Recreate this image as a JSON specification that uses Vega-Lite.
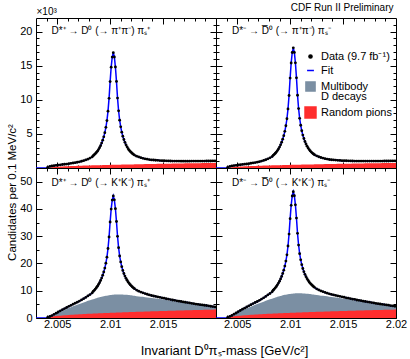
{
"$schema": "https://vega.github.io/schema/vega-lite/v6.json",
"background": "white",
"padding": {"left": 5, "top": 2, "right": 5, "bottom": 5},
"config": {
  "font": "Liberation Sans",
  "view": {"stroke": "black", "strokeWidth": 1},
  "axis": {"domain": false, "grid": false, "tickColor": "black", "tickWidth": 1, "labelColor": "black", "labelFont": "Liberation Sans", "labelFontSize": 11, "labelFlush": false, "labelOverlap": false, "titleFont": "Liberation Sans", "titleFontWeight": "normal", "titleColor": "black"},
  "legend": {"labelFont": "Liberation Sans", "labelColor": "black"}
},
"data": {"name": "d"},
"datasets": {"d": [
{"m":2.0030,"tl":0,"tr":0,"bl":0,"br":0,"rt":0,"rb":0,"gl":0,"gr":0},
{"m":2.0040,"tl":0,"tr":0,"bl":0,"br":0,"rt":0,"rb":0,"gl":0,"gr":0},
{"m":2.0041,"tl":0.1,"tr":0.1,"bl":0.22,"br":0.22,"rt":0,"rb":0,"gl":0,"gr":0},
{"m":2.0043,"tl":0.23,"tr":0.23,"bl":0.55,"br":0.58,"rt":0.08,"rb":0.35,"gl":0.3,"gr":0.32},
{"m":2.0045,"tl":0.29,"tr":0.3,"bl":0.89,"br":0.93,"rt":0.12,"rb":0.49,"gl":0.6,"gr":0.63},
{"m":2.0047,"tl":0.34,"tr":0.35,"bl":1.33,"br":1.39,"rt":0.15,"rb":0.6,"gl":1.0,"gr":1.05},
{"m":2.0049,"tl":0.39,"tr":0.39,"bl":1.76,"br":1.84,"rt":0.17,"rb":0.69,"gl":1.4,"gr":1.47},
{"m":2.0051,"tl":0.43,"tr":0.44,"bl":2.2,"br":2.3,"rt":0.19,"rb":0.78,"gl":1.8,"gr":1.89},
{"m":2.0053,"tl":0.47,"tr":0.48,"bl":2.63,"br":2.76,"rt":0.21,"rb":0.85,"gl":2.2,"gr":2.31},
{"m":2.0055,"tl":0.51,"tr":0.52,"bl":3.07,"br":3.21,"rt":0.22,"rb":0.92,"gl":2.6,"gr":2.73},
{"m":2.0057,"tl":0.55,"tr":0.56,"bl":3.46,"br":3.62,"rt":0.24,"rb":0.98,"gl":2.95,"gr":3.1},
{"m":2.0059,"tl":0.58,"tr":0.59,"bl":3.84,"br":4.03,"rt":0.25,"rb":1.04,"gl":3.3,"gr":3.47},
{"m":2.0061,"tl":0.63,"tr":0.64,"bl":4.27,"br":4.46,"rt":0.27,"rb":1.1,"gl":3.65,"gr":3.83},
{"m":2.0063,"tl":0.68,"tr":0.7,"bl":4.64,"br":4.86,"rt":0.28,"rb":1.15,"gl":3.95,"gr":4.15},
{"m":2.0065,"tl":0.73,"tr":0.75,"bl":5.06,"br":5.3,"rt":0.29,"rb":1.21,"gl":4.3,"gr":4.52},
{"m":2.0067,"tl":0.78,"tr":0.8,"bl":5.43,"br":5.69,"rt":0.3,"rb":1.25,"gl":4.6,"gr":4.83},
{"m":2.0069,"tl":0.84,"tr":0.86,"bl":5.79,"br":6.06,"rt":0.32,"rb":1.3,"gl":4.85,"gr":5.09},
{"m":2.0071,"tl":0.91,"tr":0.93,"bl":6.2,"br":6.49,"rt":0.33,"rb":1.35,"gl":5.15,"gr":5.41},
{"m":2.0073,"tl":0.99,"tr":1.01,"bl":6.64,"br":6.95,"rt":0.34,"rb":1.39,"gl":5.45,"gr":5.72},
{"m":2.0075,"tl":1.08,"tr":1.11,"bl":7.08,"br":7.41,"rt":0.35,"rb":1.43,"gl":5.7,"gr":5.99},
{"m":2.0077,"tl":1.18,"tr":1.21,"bl":7.56,"br":7.9,"rt":0.36,"rb":1.48,"gl":6.0,"gr":6.3},
{"m":2.0079,"tl":1.3,"tr":1.34,"bl":8.11,"br":8.49,"rt":0.37,"rb":1.52,"gl":6.3,"gr":6.62},
{"m":2.0081,"tl":1.45,"tr":1.49,"bl":8.6,"br":8.99,"rt":0.38,"rb":1.56,"gl":6.5,"gr":6.83},
{"m":2.0083,"tl":1.62,"tr":1.67,"bl":9.21,"br":9.63,"rt":0.39,"rb":1.59,"gl":6.75,"gr":7.09},
{"m":2.0084,"tl":1.81,"tr":1.86,"bl":9.74,"br":10.17,"rt":0.39,"rb":1.61,"gl":6.88,"gr":7.22},
{"m":2.0085,"tl":1.94,"tr":2.01,"bl":10.15,"br":10.6,"rt":0.39,"rb":1.63,"gl":7.0,"gr":7.35},
{"m":2.0086,"tl":2.1,"tr":2.16,"bl":10.6,"br":11.06,"rt":0.4,"rb":1.65,"gl":7.12,"gr":7.48},
{"m":2.0087,"tl":2.27,"tr":2.34,"bl":11.09,"br":11.56,"rt":0.4,"rb":1.67,"gl":7.25,"gr":7.61},
{"m":2.0088,"tl":2.47,"tr":2.55,"bl":11.65,"br":12.15,"rt":0.41,"rb":1.68,"gl":7.38,"gr":7.75},
{"m":2.0089,"tl":2.7,"tr":2.79,"bl":12.28,"br":12.8,"rt":0.41,"rb":1.7,"gl":7.5,"gr":7.88},
{"m":2.0090,"tl":2.97,"tr":3.07,"bl":12.96,"br":13.5,"rt":0.42,"rb":1.72,"gl":7.6,"gr":7.98},
{"m":2.0091,"tl":3.28,"tr":3.4,"bl":13.75,"br":14.32,"rt":0.42,"rb":1.74,"gl":7.7,"gr":8.09},
{"m":2.0092,"tl":3.65,"tr":3.78,"bl":14.64,"br":15.24,"rt":0.42,"rb":1.75,"gl":7.8,"gr":8.19},
{"m":2.0093,"tl":4.08,"tr":4.23,"bl":15.68,"br":16.32,"rt":0.43,"rb":1.77,"gl":7.9,"gr":8.3},
{"m":2.0094,"tl":4.57,"tr":4.74,"bl":16.87,"br":17.54,"rt":0.43,"rb":1.79,"gl":8.0,"gr":8.4},
{"m":2.0095,"tl":5.18,"tr":5.38,"bl":18.31,"br":19.03,"rt":0.44,"rb":1.81,"gl":8.1,"gr":8.51},
{"m":2.0096,"tl":5.97,"tr":6.2,"bl":20.1,"br":20.87,"rt":0.44,"rb":1.82,"gl":8.15,"gr":8.56},
{"m":2.0097,"tl":6.95,"tr":7.22,"bl":22.32,"br":23.16,"rt":0.44,"rb":1.84,"gl":8.2,"gr":8.61},
{"m":2.0098,"tl":8.34,"tr":8.67,"bl":25.48,"br":26.41,"rt":0.45,"rb":1.86,"gl":8.28,"gr":8.69},
{"m":2.0099,"tl":10.22,"tr":10.63,"bl":29.71,"br":30.78,"rt":0.45,"rb":1.87,"gl":8.35,"gr":8.77},
{"m":2.0100,"tl":12.67,"tr":13.19,"bl":35.19,"br":36.42,"rt":0.46,"rb":1.89,"gl":8.4,"gr":8.82},
{"m":2.0101,"tl":14.79,"tr":15.4,"bl":39.94,"br":41.32,"rt":0.46,"rb":1.9,"gl":8.45,"gr":8.87},
{"m":2.0102,"tl":16.27,"tr":16.94,"bl":43.25,"br":44.74,"rt":0.46,"rb":1.92,"gl":8.5,"gr":8.93},
{"m":2.0103,"tl":16.92,"tr":17.62,"bl":44.75,"br":46.28,"rt":0.47,"rb":1.93,"gl":8.55,"gr":8.98},
{"m":2.0104,"tl":16.28,"tr":16.95,"bl":43.33,"br":44.82,"rt":0.47,"rb":1.95,"gl":8.58,"gr":9.01},
{"m":2.0105,"tl":14.81,"tr":15.42,"bl":40.09,"br":41.48,"rt":0.48,"rb":1.97,"gl":8.6,"gr":9.03},
{"m":2.0106,"tl":12.7,"tr":13.22,"bl":35.39,"br":36.63,"rt":0.48,"rb":1.98,"gl":8.6,"gr":9.03},
{"m":2.0107,"tl":10.26,"tr":10.67,"bl":29.96,"br":31.04,"rt":0.48,"rb":2.0,"gl":8.6,"gr":9.03},
{"m":2.0108,"tl":8.39,"tr":8.72,"bl":25.8,"br":26.75,"rt":0.49,"rb":2.01,"gl":8.6,"gr":9.03},
{"m":2.0109,"tl":7.01,"tr":7.28,"bl":22.72,"br":23.58,"rt":0.49,"rb":2.03,"gl":8.6,"gr":9.03},
{"m":2.0110,"tl":6.04,"tr":6.27,"bl":20.55,"br":21.34,"rt":0.49,"rb":2.04,"gl":8.6,"gr":9.03},
{"m":2.0111,"tl":5.26,"tr":5.46,"bl":18.81,"br":19.55,"rt":0.5,"rb":2.06,"gl":8.6,"gr":9.03},
{"m":2.0112,"tl":4.66,"tr":4.83,"bl":17.45,"br":18.15,"rt":0.5,"rb":2.07,"gl":8.58,"gr":9.01},
{"m":2.0113,"tl":4.18,"tr":4.33,"bl":16.33,"br":17.0,"rt":0.5,"rb":2.09,"gl":8.55,"gr":8.98},
{"m":2.0114,"tl":3.76,"tr":3.89,"bl":15.37,"br":16.01,"rt":0.51,"rb":2.1,"gl":8.53,"gr":8.96},
{"m":2.0115,"tl":3.4,"tr":3.52,"bl":14.55,"br":15.16,"rt":0.51,"rb":2.11,"gl":8.5,"gr":8.93},
{"m":2.0116,"tl":3.1,"tr":3.2,"bl":13.84,"br":14.42,"rt":0.52,"rb":2.13,"gl":8.48,"gr":8.9},
{"m":2.0117,"tl":2.84,"tr":2.94,"bl":13.23,"br":13.79,"rt":0.52,"rb":2.14,"gl":8.45,"gr":8.87},
{"m":2.0118,"tl":2.62,"tr":2.7,"bl":12.67,"br":13.22,"rt":0.52,"rb":2.16,"gl":8.4,"gr":8.82},
{"m":2.0119,"tl":2.43,"tr":2.5,"bl":12.19,"br":12.72,"rt":0.53,"rb":2.17,"gl":8.35,"gr":8.77},
{"m":2.0120,"tl":2.27,"tr":2.34,"bl":11.78,"br":12.3,"rt":0.53,"rb":2.19,"gl":8.3,"gr":8.72},
{"m":2.0121,"tl":2.13,"tr":2.19,"bl":11.4,"br":11.91,"rt":0.53,"rb":2.2,"gl":8.25,"gr":8.66},
{"m":2.0122,"tl":2.0,"tr":2.06,"bl":11.06,"br":11.56,"rt":0.53,"rb":2.21,"gl":8.2,"gr":8.61},
{"m":2.0123,"tl":1.89,"tr":1.94,"bl":10.76,"br":11.25,"rt":0.54,"rb":2.23,"gl":8.15,"gr":8.56},
{"m":2.0125,"tl":1.74,"tr":1.78,"bl":10.24,"br":10.71,"rt":0.55,"rb":2.25,"gl":8.0,"gr":8.4},
{"m":2.0127,"tl":1.62,"tr":1.65,"bl":9.85,"br":10.31,"rt":0.55,"rb":2.28,"gl":7.9,"gr":8.3},
{"m":2.0129,"tl":1.51,"tr":1.54,"bl":9.5,"br":9.94,"rt":0.56,"rb":2.31,"gl":7.8,"gr":8.19},
{"m":2.0131,"tl":1.42,"tr":1.45,"bl":9.23,"br":9.67,"rt":0.56,"rb":2.33,"gl":7.75,"gr":8.14},
{"m":2.0133,"tl":1.35,"tr":1.37,"bl":8.95,"br":9.37,"rt":0.57,"rb":2.36,"gl":7.65,"gr":8.03},
{"m":2.0135,"tl":1.29,"tr":1.31,"bl":8.71,"br":9.12,"rt":0.58,"rb":2.38,"gl":7.55,"gr":7.93},
{"m":2.0137,"tl":1.23,"tr":1.25,"bl":8.46,"br":8.86,"rt":0.58,"rb":2.41,"gl":7.45,"gr":7.82},
{"m":2.0139,"tl":1.19,"tr":1.21,"bl":8.26,"br":8.65,"rt":0.59,"rb":2.43,"gl":7.35,"gr":7.72},
{"m":2.0141,"tl":1.17,"tr":1.18,"bl":8.08,"br":8.47,"rt":0.59,"rb":2.46,"gl":7.25,"gr":7.61},
{"m":2.0143,"tl":1.14,"tr":1.16,"bl":7.91,"br":8.29,"rt":0.6,"rb":2.48,"gl":7.15,"gr":7.51},
{"m":2.0145,"tl":1.12,"tr":1.13,"bl":7.74,"br":8.11,"rt":0.61,"rb":2.51,"gl":7.05,"gr":7.4},
{"m":2.0147,"tl":1.09,"tr":1.11,"bl":7.57,"br":7.93,"rt":0.61,"rb":2.53,"gl":6.95,"gr":7.3},
{"m":2.0149,"tl":1.07,"tr":1.08,"bl":7.39,"br":7.75,"rt":0.62,"rb":2.55,"gl":6.85,"gr":7.19},
{"m":2.0151,"tl":1.06,"tr":1.07,"bl":7.26,"br":7.61,"rt":0.62,"rb":2.58,"gl":6.75,"gr":7.09},
{"m":2.0153,"tl":1.05,"tr":1.06,"bl":7.07,"br":7.41,"rt":0.63,"rb":2.6,"gl":6.6,"gr":6.93},
{"m":2.0155,"tl":1.04,"tr":1.05,"bl":6.93,"br":7.28,"rt":0.64,"rb":2.63,"gl":6.5,"gr":6.83},
{"m":2.0157,"tl":1.03,"tr":1.04,"bl":6.75,"br":7.08,"rt":0.64,"rb":2.65,"gl":6.35,"gr":6.67},
{"m":2.0159,"tl":1.02,"tr":1.03,"bl":6.61,"br":6.93,"rt":0.65,"rb":2.67,"gl":6.25,"gr":6.56},
{"m":2.0161,"tl":1.02,"tr":1.02,"bl":6.48,"br":6.8,"rt":0.65,"rb":2.69,"gl":6.15,"gr":6.46},
{"m":2.0163,"tl":1.01,"tr":1.01,"bl":6.29,"br":6.6,"rt":0.66,"rb":2.72,"gl":6.0,"gr":6.3},
{"m":2.0165,"tl":1.01,"tr":1.01,"bl":6.17,"br":6.48,"rt":0.66,"rb":2.74,"gl":5.9,"gr":6.2},
{"m":2.0167,"tl":1.0,"tr":1.01,"bl":6.05,"br":6.35,"rt":0.67,"rb":2.76,"gl":5.8,"gr":6.09},
{"m":2.0169,"tl":1.0,"tr":1.01,"bl":5.89,"br":6.17,"rt":0.67,"rb":2.78,"gl":5.65,"gr":5.93},
{"m":2.0171,"tl":1.0,"tr":1.01,"bl":5.77,"br":6.05,"rt":0.68,"rb":2.8,"gl":5.55,"gr":5.83},
{"m":2.0173,"tl":1.0,"tr":1.01,"bl":5.65,"br":5.93,"rt":0.68,"rb":2.82,"gl":5.45,"gr":5.72},
{"m":2.0175,"tl":1.0,"tr":1.01,"bl":5.54,"br":5.82,"rt":0.69,"rb":2.85,"gl":5.35,"gr":5.62},
{"m":2.0177,"tl":1.01,"tr":1.01,"bl":5.38,"br":5.65,"rt":0.69,"rb":2.87,"gl":5.2,"gr":5.46},
{"m":2.0179,"tl":1.01,"tr":1.01,"bl":5.27,"br":5.54,"rt":0.7,"rb":2.89,"gl":5.1,"gr":5.36},
{"m":2.0181,"tl":1.01,"tr":1.01,"bl":5.11,"br":5.36,"rt":0.7,"rb":2.91,"gl":4.95,"gr":5.2},
{"m":2.0183,"tl":1.01,"tr":1.02,"bl":5.0,"br":5.25,"rt":0.71,"rb":2.93,"gl":4.85,"gr":5.09},
{"m":2.0185,"tl":1.02,"tr":1.02,"bl":4.89,"br":5.14,"rt":0.71,"rb":2.95,"gl":4.75,"gr":4.99},
{"m":2.0187,"tl":1.02,"tr":1.02,"bl":4.79,"br":5.02,"rt":0.72,"rb":2.97,"gl":4.65,"gr":4.88},
{"m":2.0189,"tl":1.02,"tr":1.03,"bl":4.68,"br":4.91,"rt":0.72,"rb":2.99,"gl":4.55,"gr":4.78},
{"m":2.0191,"tl":1.03,"tr":1.03,"bl":4.57,"br":4.8,"rt":0.73,"rb":3.01,"gl":4.45,"gr":4.67},
{"m":2.0193,"tl":1.03,"tr":1.03,"bl":4.47,"br":4.69,"rt":0.73,"rb":3.03,"gl":4.35,"gr":4.57},
{"m":2.0195,"tl":1.03,"tr":1.04,"bl":4.31,"br":4.52,"rt":0.74,"rb":3.05,"gl":4.2,"gr":4.41},
{"m":2.0197,"tl":1.04,"tr":1.04,"bl":4.2,"br":4.42,"rt":0.74,"rb":3.07,"gl":4.1,"gr":4.31},
{"m":2.0199,"tl":1.04,"tr":1.05,"bl":4.1,"br":4.3,"rt":0.75,"rb":3.09,"gl":4.0,"gr":4.2},
{"m":2.0200,"tl":1.04,"tr":1.05,"bl":4.1,"br":4.3,"rt":0.75,"rb":3.09,"gl":4.0,"gr":4.2}
]},
"spacing": 0,
"bounds": "flush",
"columns": 2,
"concat": [
  {"width": 180, "height": 150,
   "resolve": {"axis": {"x": "independent", "y": "independent"}},
   "layer": [
    {"mark": {"type": "area", "color": "#ff2d2d", "clip": true},
     "encoding": {
      "x": {"field": "m", "type": "quantitative", "scale": {"domain": [2.003, 2.02], "nice": false, "zero": false},
            "axis": {"orient": "bottom", "values": [2.004,2.005,2.006,2.007,2.008,2.009,2.01,2.011,2.012,2.013,2.014,2.015,2.016,2.017,2.018,2.019], "tickSize": {"condition": {"test": "round(datum.value*1000) % 5 == 0", "value": -6}, "value": -3}, "labels": false, "title": null}},
      "y": {"field": "rt", "type": "quantitative", "scale": {"domain": [0, 22], "nice": false},
            "axis": {"orient": "left", "values": [0,1,2,3,4,5,6,7,8,9,10,11,12,13,14,15,16,17,18,19,20,21], "tickSize": {"condition": {"test": "datum.value % 5 == 0", "value": -6}, "value": -3}, "labelExpr": "datum.value % 5 == 0 && datum.value > 0 ? datum.label : ''", "labelPadding": 10, "title": "×10³", "titleAngle": 0, "titleX": 0, "titleY": -4, "titleAlign": "left", "titleBaseline": "alphabetic", "titleFontSize": 10}}
     }},
    {"mark": {"type": "line", "color": "#0000ff", "strokeWidth": 1.5, "clip": true},
     "encoding": {
      "x": {"field": "m", "type": "quantitative", "scale": {"domain": [2.003, 2.02], "nice": false, "zero": false},
            "axis": {"orient": "top", "values": [2.004,2.005,2.006,2.007,2.008,2.009,2.01,2.011,2.012,2.013,2.014,2.015,2.016,2.017,2.018,2.019], "tickSize": {"condition": {"test": "round(datum.value*1000) % 5 == 0", "value": -6}, "value": -3}, "labels": false, "title": null}},
      "y": {"field": "tl", "type": "quantitative", "scale": {"domain": [0, 22], "nice": false},
            "axis": {"orient": "right", "values": [0,1,2,3,4,5,6,7,8,9,10,11,12,13,14,15,16,17,18,19,20,21], "tickSize": {"condition": {"test": "datum.value % 5 == 0", "value": -6}, "value": -3}, "labels": false, "title": null}}
     }},
    {"transform": [{"filter": "datum.m > 2.00405 && datum.m < 2.01995"}],
     "mark": {"type": "circle", "color": "black", "size": 8, "opacity": 1, "clip": true},
     "encoding": {
      "x": {"field": "m", "type": "quantitative", "axis": null},
      "y": {"field": "tl", "type": "quantitative", "axis": null}
     }},
    {"data": {"values": [{}]},
     "mark": {"type": "text", "text": "D*⁺ → D⁰ (→ π⁺π⁻) πₛ⁺", "align": "left", "baseline": "alphabetic", "fontSize": 10, "font": "Liberation Sans", "color": "black"},
     "encoding": {
      "x": {"datum": 2.00447, "type": "quantitative", "axis": null},
      "y": {"datum": 19.7, "type": "quantitative", "axis": null}
     }}
   ]},
  {"width": 180, "height": 150,
   "title": {"text": "CDF Run II Preliminary", "anchor": "end", "fontSize": 10, "fontWeight": "normal", "font": "Liberation Sans", "color": "black", "offset": 5, "dx": -3},
   "resolve": {"axis": {"x": "independent", "y": "independent"}},
   "layer": [
    {"mark": {"type": "area", "color": "#ff2d2d", "clip": true},
     "encoding": {
      "x": {"field": "m", "type": "quantitative", "scale": {"domain": [2.003, 2.02], "nice": false, "zero": false},
            "axis": {"orient": "bottom", "values": [2.004,2.005,2.006,2.007,2.008,2.009,2.01,2.011,2.012,2.013,2.014,2.015,2.016,2.017,2.018,2.019,2.02], "tickSize": {"condition": {"test": "round(datum.value*1000) % 5 == 0", "value": -6}, "value": -3}, "labels": false, "title": null}},
      "y": {"field": "rt", "type": "quantitative", "scale": {"domain": [0, 22], "nice": false},
            "axis": {"orient": "left", "values": [0,1,2,3,4,5,6,7,8,9,10,11,12,13,14,15,16,17,18,19,20,21], "tickSize": {"condition": {"test": "datum.value % 5 == 0", "value": -6}, "value": -3}, "labels": false, "title": null}}
     }},
    {"mark": {"type": "line", "color": "#0000ff", "strokeWidth": 1.5, "clip": true},
     "encoding": {
      "x": {"field": "m", "type": "quantitative", "scale": {"domain": [2.003, 2.02], "nice": false, "zero": false},
            "axis": {"orient": "top", "values": [2.004,2.005,2.006,2.007,2.008,2.009,2.01,2.011,2.012,2.013,2.014,2.015,2.016,2.017,2.018,2.019], "tickSize": {"condition": {"test": "round(datum.value*1000) % 5 == 0", "value": -6}, "value": -3}, "labels": false, "title": null}},
      "y": {"field": "tr", "type": "quantitative", "scale": {"domain": [0, 22], "nice": false},
            "axis": {"orient": "right", "values": [0,1,2,3,4,5,6,7,8,9,10,11,12,13,14,15,16,17,18,19,20,21], "tickSize": {"condition": {"test": "datum.value % 5 == 0", "value": -6}, "value": -3}, "labels": false, "title": null}}
     }},
    {"transform": [{"filter": "datum.m > 2.00405 && datum.m < 2.01995"}],
     "mark": {"type": "circle", "color": "black", "size": 8, "opacity": 1, "clip": true},
     "encoding": {
      "x": {"field": "m", "type": "quantitative", "axis": null},
      "y": {"field": "tr", "type": "quantitative", "axis": null}
     }},
    {"data": {"values": [{}]},
     "mark": {"type": "text", "text": "D*⁻ → D̅⁰ (→ π⁺π⁻) πₛ⁻", "align": "left", "baseline": "alphabetic", "fontSize": 10, "font": "Liberation Sans", "color": "black"},
     "encoding": {
      "x": {"datum": 2.00451, "type": "quantitative", "axis": null},
      "y": {"datum": 19.7, "type": "quantitative", "axis": null}
     }},
    {"data": {"values": [{"s": "Data (9.7 fb⁻¹)"}, {"s": "Fit"}, {"s": "Multibody D decays"}, {"s": "Random pions"}]},
     "transform": [{"filter": "datum.s == 'none'"}],
     "mark": {"type": "point", "filled": true, "opacity": 1},
     "encoding": {
      "fill": {"field": "s", "type": "nominal", "scale": {"domain": ["Data (9.7 fb⁻¹)", "Fit", "Multibody D decays", "Random pions"], "range": ["black", "#0000ff", "#7b8fa3", "#ff2d2d"]},
               "legend": {"title": null, "orient": "none", "legendX": 268, "legendY": 33, "labelFontSize": 11, "symbolStrokeWidth": 1.5, "symbolOpacity": 1, "rowPadding": 2, "labelLimit": 200, "labelExpr": "datum.label == 'Multibody D decays' ? ['Multibody', 'D decays'] : datum.label", "encode": {"labels": {"update": {"lineHeight": {"value": 10.5}}}}}},
      "stroke": {"field": "s", "type": "nominal", "scale": {"domain": ["Data (9.7 fb⁻¹)", "Fit", "Multibody D decays", "Random pions"], "range": ["black", "#0000ff", "#7b8fa3", "#ff2d2d"]},
               "legend": {"title": null, "orient": "none", "legendX": 268, "legendY": 33, "labelFontSize": 11, "symbolStrokeWidth": 1.5, "symbolOpacity": 1, "rowPadding": 2, "labelLimit": 200, "labelExpr": "datum.label == 'Multibody D decays' ? ['Multibody', 'D decays'] : datum.label", "encode": {"labels": {"update": {"lineHeight": {"value": 10.5}}}}}},
      "shape": {"field": "s", "type": "nominal", "scale": {"domain": ["Data (9.7 fb⁻¹)", "Fit", "Multibody D decays", "Random pions"], "range": ["circle", "stroke", "square", "square"]},
               "legend": {"title": null, "orient": "none", "legendX": 268, "legendY": 33, "labelFontSize": 11, "symbolStrokeWidth": 1.5, "symbolOpacity": 1, "rowPadding": 2, "labelLimit": 200, "labelExpr": "datum.label == 'Multibody D decays' ? ['Multibody', 'D decays'] : datum.label", "encode": {"labels": {"update": {"lineHeight": {"value": 10.5}}}}}},
      "size": {"field": "s", "type": "nominal", "scale": {"domain": ["Data (9.7 fb⁻¹)", "Fit", "Multibody D decays", "Random pions"], "range": [10, 120, 140, 140]},
               "legend": {"title": null, "orient": "none", "legendX": 268, "legendY": 33, "labelFontSize": 11, "symbolStrokeWidth": 1.5, "symbolOpacity": 1, "rowPadding": 2, "labelLimit": 200, "labelExpr": "datum.label == 'Multibody D decays' ? ['Multibody', 'D decays'] : datum.label", "encode": {"labels": {"update": {"lineHeight": {"value": 10.5}}}}}}
     }}
   ]},
  {"width": 180, "height": 150,
   "resolve": {"axis": {"x": "independent", "y": "independent"}},
   "layer": [
    {"mark": {"type": "area", "color": "#7b8fa3", "clip": true},
     "encoding": {
      "x": {"field": "m", "type": "quantitative", "scale": {"domain": [2.003, 2.02], "nice": false, "zero": false},
            "axis": {"orient": "bottom", "values": [2.004,2.005,2.006,2.007,2.008,2.009,2.01,2.011,2.012,2.013,2.014,2.015,2.016,2.017,2.018,2.019], "tickSize": {"condition": {"test": "round(datum.value*1000) % 5 == 0", "value": -6}, "value": -3}, "labelExpr": "round(datum.value*1000) % 5 == 0 ? format(datum.value, '.3~f') : ''", "labelPadding": 6, "title": "Invariant D⁰πₛ-mass [GeV/c²]", "titleX": 188, "titleY": 36, "titleAlign": "center", "titleBaseline": "alphabetic", "titleFontSize": 13}},
      "y": {"field": "gl", "type": "quantitative", "scale": {"domain": [0, 55], "nice": false},
            "axis": {"orient": "left", "values": [0,5,10,15,20,25,30,35,40,45,50], "tickSize": {"condition": {"test": "datum.value % 10 == 0", "value": -6}, "value": -3}, "labelExpr": "datum.value % 10 == 0 ? datum.label : ''", "labelPadding": 10, "title": "Candidates per 0.1 MeV/c²", "titleX": -20.5, "titleY": 24, "titleAngle": -90, "titleAlign": "center", "titleBaseline": "alphabetic", "titleFontSize": 11.5}}
     }},
    {"mark": {"type": "area", "color": "#ff2d2d", "clip": true},
     "encoding": {
      "x": {"field": "m", "type": "quantitative", "axis": null},
      "y": {"field": "rb", "type": "quantitative", "axis": null}
     }},
    {"mark": {"type": "line", "color": "#0000ff", "strokeWidth": 1.5, "clip": true},
     "encoding": {
      "x": {"field": "m", "type": "quantitative", "scale": {"domain": [2.003, 2.02], "nice": false, "zero": false},
            "axis": {"orient": "top", "values": [2.004,2.005,2.006,2.007,2.008,2.009,2.01,2.011,2.012,2.013,2.014,2.015,2.016,2.017,2.018,2.019], "tickSize": {"condition": {"test": "round(datum.value*1000) % 5 == 0", "value": -6}, "value": -3}, "labels": false, "title": null}},
      "y": {"field": "bl", "type": "quantitative", "scale": {"domain": [0, 55], "nice": false},
            "axis": {"orient": "right", "values": [0,5,10,15,20,25,30,35,40,45,50], "tickSize": {"condition": {"test": "datum.value % 10 == 0", "value": -6}, "value": -3}, "labels": false, "title": null}}
     }},
    {"transform": [{"filter": "datum.m > 2.00405 && datum.m < 2.01995"}],
     "mark": {"type": "circle", "color": "black", "size": 8, "opacity": 1, "clip": true},
     "encoding": {
      "x": {"field": "m", "type": "quantitative", "axis": null},
      "y": {"field": "bl", "type": "quantitative", "axis": null}
     }},
    {"data": {"values": [{}]},
     "mark": {"type": "text", "text": "D*⁺ → D⁰ (→ K⁺K⁻) πₛ⁺", "align": "left", "baseline": "alphabetic", "fontSize": 10, "font": "Liberation Sans", "color": "black"},
     "encoding": {
      "x": {"datum": 2.00447, "type": "quantitative", "axis": null},
      "y": {"datum": 48.4, "type": "quantitative", "axis": null}
     }}
   ]},
  {"width": 180, "height": 150,
   "resolve": {"axis": {"x": "independent", "y": "independent"}},
   "layer": [
    {"mark": {"type": "area", "color": "#7b8fa3", "clip": true},
     "encoding": {
      "x": {"field": "m", "type": "quantitative", "scale": {"domain": [2.003, 2.02], "nice": false, "zero": false},
            "axis": {"orient": "bottom", "values": [2.004,2.005,2.006,2.007,2.008,2.009,2.01,2.011,2.012,2.013,2.014,2.015,2.016,2.017,2.018,2.019,2.02], "tickSize": {"condition": {"test": "round(datum.value*1000) % 5 == 0", "value": -6}, "value": -3}, "labelExpr": "round(datum.value*1000) % 5 == 0 ? format(datum.value, '.3~f') : ''", "labelPadding": 6, "title": null}},
      "y": {"field": "gr", "type": "quantitative", "scale": {"domain": [0, 55], "nice": false},
            "axis": {"orient": "left", "values": [0,5,10,15,20,25,30,35,40,45,50], "tickSize": {"condition": {"test": "datum.value % 10 == 0", "value": -6}, "value": -3}, "labels": false, "title": null}}
     }},
    {"mark": {"type": "area", "color": "#ff2d2d", "clip": true},
     "encoding": {
      "x": {"field": "m", "type": "quantitative", "axis": null},
      "y": {"field": "rb", "type": "quantitative", "axis": null}
     }},
    {"mark": {"type": "line", "color": "#0000ff", "strokeWidth": 1.5, "clip": true},
     "encoding": {
      "x": {"field": "m", "type": "quantitative", "scale": {"domain": [2.003, 2.02], "nice": false, "zero": false},
            "axis": {"orient": "top", "values": [2.004,2.005,2.006,2.007,2.008,2.009,2.01,2.011,2.012,2.013,2.014,2.015,2.016,2.017,2.018,2.019], "tickSize": {"condition": {"test": "round(datum.value*1000) % 5 == 0", "value": -6}, "value": -3}, "labels": false, "title": null}},
      "y": {"field": "br", "type": "quantitative", "scale": {"domain": [0, 55], "nice": false},
            "axis": {"orient": "right", "values": [0,5,10,15,20,25,30,35,40,45,50], "tickSize": {"condition": {"test": "datum.value % 10 == 0", "value": -6}, "value": -3}, "labels": false, "title": null}}
     }},
    {"transform": [{"filter": "datum.m > 2.00405 && datum.m < 2.01995"}],
     "mark": {"type": "circle", "color": "black", "size": 8, "opacity": 1, "clip": true},
     "encoding": {
      "x": {"field": "m", "type": "quantitative", "axis": null},
      "y": {"field": "br", "type": "quantitative", "axis": null}
     }},
    {"data": {"values": [{}]},
     "mark": {"type": "text", "text": "D*⁻ → D̅⁰ (→ K⁺K⁻) πₛ⁻", "align": "left", "baseline": "alphabetic", "fontSize": 10, "font": "Liberation Sans", "color": "black"},
     "encoding": {
      "x": {"datum": 2.00451, "type": "quantitative", "axis": null},
      "y": {"datum": 48.4, "type": "quantitative", "axis": null}
     }}
   ]}
]
}
